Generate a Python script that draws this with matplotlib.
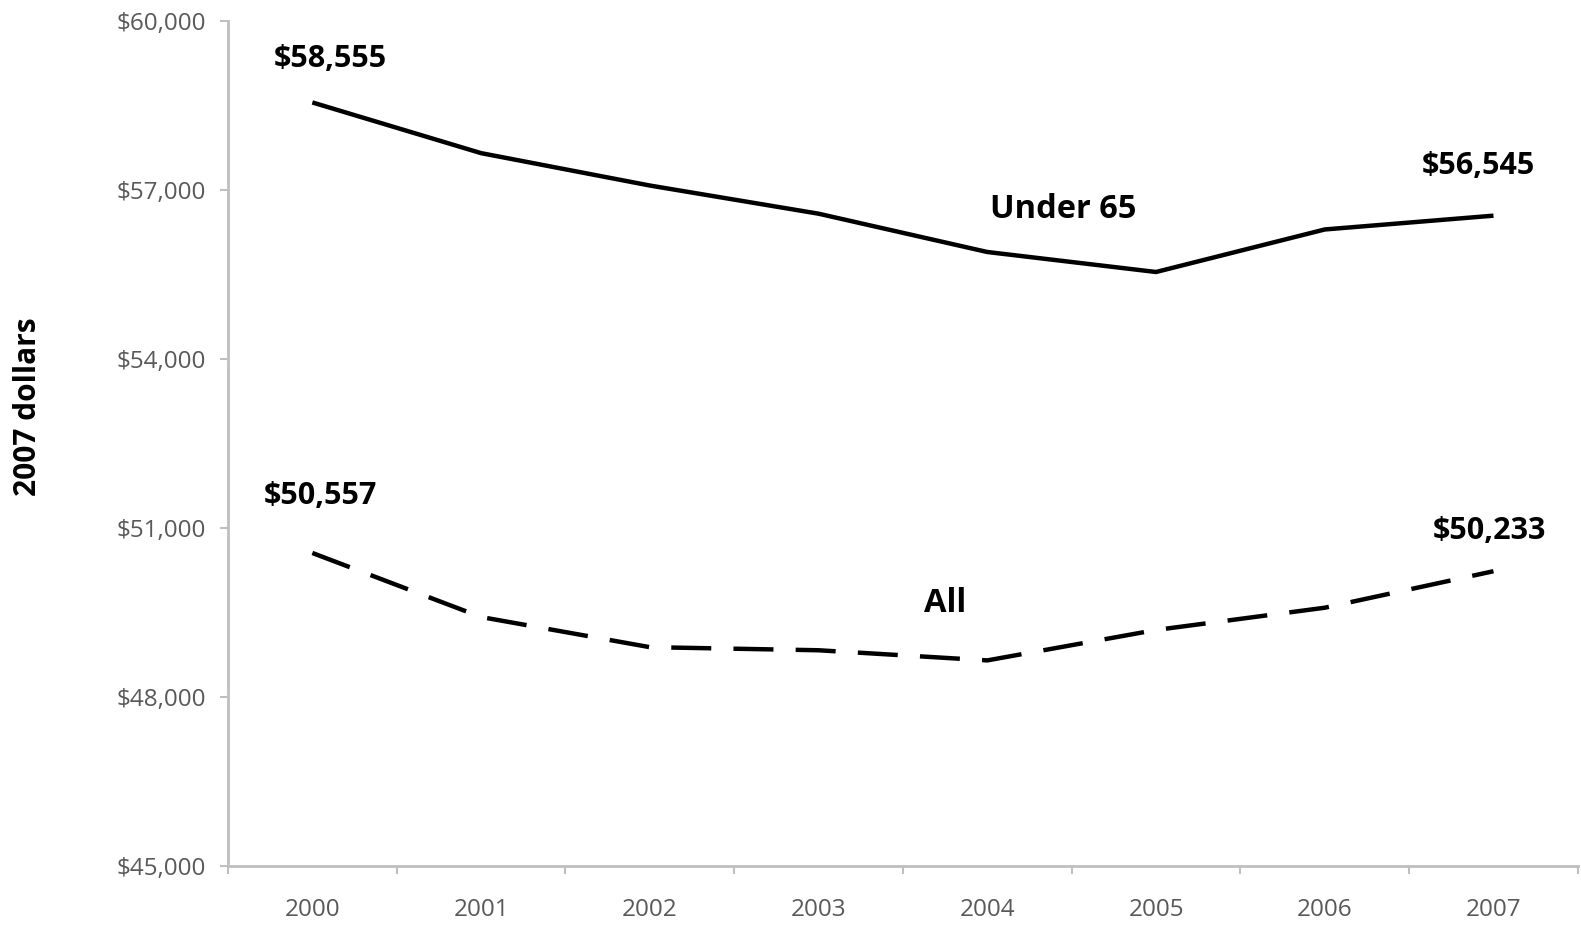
import matplotlib.pyplot as plt
import numpy as np

years = ["2000", "2001", "2002", "2003", "2004", "2005", "2006", "2007"]
under_65 = [58555, 57655, 57080, 56580, 55900, 55545, 56300, 56545]
all_ages = [50557, 49420, 48885, 48830, 48650, 49190, 49585, 50233]
yticks = [45000, 48000, 51000, 54000, 57000, 60000]

plt.rcParams["font.family"] = ["Open Sans", "DejaVu Sans"]
axis_grey = "#bfbfbf"
text_grey = "#595959"

fig = plt.figure(figsize=(15.81, 9.27), dpi=100)
ax = fig.add_axes([0.1442, 0.0658, 0.8538, 0.9115])

x = np.arange(len(years))
ax.plot(x, under_65, color="black", lw=3.2, solid_capstyle="butt")
ax.plot(x, all_ages, color="black", lw=3.2, dashes=(9, 5), dash_capstyle="butt")

ax.set_xlim(-0.5, len(years) - 0.5)
ax.set_ylim(45000, 60000)

# category labels in the middle of each bin, tick marks on the bin edges
ax.set_xticks(np.arange(-0.5, len(years)), labels=[])
ax.set_xticks(x, labels=years, minor=True)
ax.tick_params(axis="x", which="major", length=6, width=1.5, color=axis_grey)
ax.tick_params(axis="x", which="minor", length=0, pad=23, labelsize=17.5, labelcolor=text_grey)

ax.set_yticks(yticks, labels=[f"${v:,}" for v in yticks])
ax.tick_params(axis="y", length=6, width=1.5, color=axis_grey, pad=10,
               labelsize=17.5, labelcolor=text_grey)

for side in ["top", "right"]:
    ax.spines[side].set_visible(False)
for side in ["left", "bottom"]:
    ax.spines[side].set_color(axis_grey)
    ax.spines[side].set_linewidth(2)

ax.set_ylabel("2007 dollars", fontsize=21.5, fontweight="bold")
ax.yaxis.set_label_coords(-0.137, 0.544)

# end-point value labels
label_style = dict(textcoords="offset points", ha="center", va="center",
                   fontsize=22, fontweight="bold")
ax.annotate(f"${under_65[0]:,}", (x[0], under_65[0]), xytext=(13, 31), **label_style)
ax.annotate(f"${under_65[-1]:,}", (x[-1], under_65[-1]), xytext=(-11, 36), **label_style)
ax.annotate(f"${all_ages[0]:,}", (x[0], all_ages[0]), xytext=(6, 41), **label_style)
ax.annotate(f"${all_ages[-1]:,}", (x[-1], all_ages[-1]), xytext=(-3, 29), **label_style)

ax.text(4.45, 56650, "Under 65", ha="center", va="center", fontsize=23.5, fontweight="bold")
ax.text(3.75, 49660, "All", ha="center", va="center", fontsize=23.5, fontweight="bold")

fig.savefig("out.png", dpi=100)
